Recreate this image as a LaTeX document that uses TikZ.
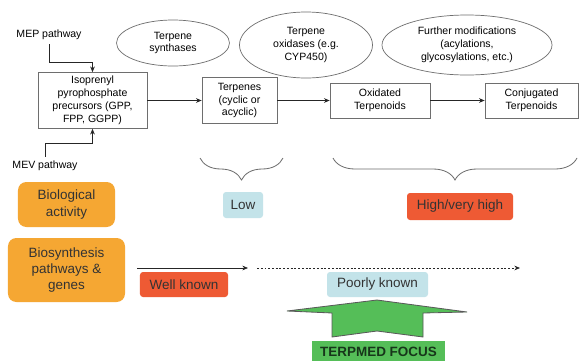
\documentclass[tikz,border=0pt]{standalone}
\usepackage{fontspec}
\setmainfont{Liberation Sans}
\usetikzlibrary{arrows.meta,shapes.geometric,decorations.pathreplacing}
\definecolor{boxline}{HTML}{6E6E6E}
\definecolor{traitcolor}{HTML}{F5A733}
\definecolor{highcolor}{HTML}{EE5A34}
\definecolor{lowcolor}{HTML}{C3E3E9}
\definecolor{focuscolor}{HTML}{55BE58}
\definecolor{focustext}{HTML}{17361A}
\definecolor{labeltext}{HTML}{333333}
\tikzset{
  path step/.style={draw=boxline,line width=.6pt,align=center,inner sep=0pt,font=\fontsize{9}{11}\selectfont},
  path enzyme/.style={ellipse,draw=boxline,line width=.6pt,align=center,inner sep=0pt,font=\fontsize{9}{11}\selectfont},
  path flow/.style={black!85,line width=.6pt,-{Stealth[length=1.7mm,width=1.4mm]}},
  path brace/.style={draw=boxline,line width=.7pt,decorate,decoration={brace,mirror,amplitude=6.6mm}},
  trait box/.style={fill=traitcolor,rounded corners=2.5mm,align=center,inner sep=0pt,text=labeltext,font=\fontsize{11.5}{14}\selectfont},
  level tag/.style={rounded corners=.9mm,align=center,inner sep=0pt,text=labeltext,font=\fontsize{11.5}{14}\selectfont}
}
\begin{document}
\begin{tikzpicture}[x=.03cm,y=-.03cm]
  \useasboundingbox (0,0) rectangle (580,361);
  \fill[white] (0,0) rectangle (580,361);
  % pathway steps
  \node[path step,minimum width=3.27cm,minimum height=1.68cm] (ipp) at (92.5,100.5)
    {Isoprenyl\\pyrophosphate\\precursors (GPP,\\FPP, GGPP)};
  \node[path step,minimum width=2.25cm,minimum height=1.38cm] (terp) at (239.5,100.5)
    {Terpenes\\(cyclic or\\acyclic)};
  \node[path step,minimum width=3cm,minimum height=1.05cm] (oxi) at (380,100.5)
    {Oxidated\\Terpenoids};
  \node[path step,minimum width=2.79cm,minimum height=1.05cm] (conj) at (531.5,100.5)
    {Conjugated\\Terpenoids};
  \draw[path flow] (ipp) -- (terp);
  \draw[path flow] (terp) -- (oxi);
  \draw[path flow] (oxi) -- (conj);
  % enzymes
  \node[path enzyme,minimum width=3.39cm,minimum height=1.38cm] (synth) at (173,43) {Terpene\\synthases};
  \node[path enzyme,minimum width=3.99cm,minimum height=1.98cm] (oxid) at (306,45) {Terpene\\oxidases (e.g.\\CYP450)};
  \node[path enzyme,minimum width=5.1cm,minimum height=1.8cm] (modif) at (467,45)
    {Further modifications\\(acylations,\\glycosylations, etc.)};
  % entry pathways
  \node[font=\fontsize{9}{11}\selectfont] (mep) at (49,35) {MEP pathway};
  \node[font=\fontsize{9}{11}\selectfont] (mev) at (45,166) {MEV pathway};
  \coordinate (mep bend) at (92.5,62);
  \coordinate (mev bend) at (92.5,143);
  \draw[path flow] (mep.south) |- (mep bend) -- (ipp.north);
  \draw[path flow] (mev.north) |- (mev bend) -- (ipp.south);
  % braces and levels
  \draw[path brace] (200,158) -- (283,158);
  \draw[path brace] (333,158) -- (577,158);
  \node[level tag,fill=lowcolor,minimum width=1.2cm,minimum height=.78cm] (low) at (243,205) {Low};
  \node[level tag,fill=highcolor,minimum width=3.18cm,minimum height=.81cm] (high) at (460,206.5) {High/very high};
  % traits
  \node[trait box,minimum width=2.91cm,minimum height=1.35cm] (bioact) at (66.5,204.5) {Biological\\activity};
  \node[trait box,minimum width=3.51cm,minimum height=1.92cm] (biosyn) at (66.5,270) {Biosynthesis\\pathways \&\\genes};
  \coordinate (known start) at (137,268);
  \coordinate (known end) at (248,268);
  \coordinate (poor start) at (257,268);
  \coordinate (poor end) at (520,268);
  \draw[path flow] (known start) -- (known end);
  \draw[path flow,dash pattern=on 1.6pt off 1.6pt] (poor start) -- (poor end);
  \node[level tag,fill=highcolor,minimum width=2.64cm,minimum height=.75cm] (well) at (184,284.5) {Well known};
  \node[level tag,fill=lowcolor,minimum width=3.03cm,minimum height=.75cm] (poorly) at (377.5,284.5) {Poorly known};
  % focus
  \draw[draw=black!65,line width=.7pt,fill=focuscolor]
    (332,337) -- (332,313) -- (287,311) -- (377,300) -- (467,312) -- (423,313)
    -- (423,337) -- (377,331) -- cycle;
  \node[fill=focuscolor,minimum width=3.99cm,minimum height=.66cm,inner sep=0pt,
    text=focustext,font=\fontsize{11.5}{14}\selectfont\bfseries] (focus) at (378.5,352) {TERPMED FOCUS};
\end{tikzpicture}
\end{document}
